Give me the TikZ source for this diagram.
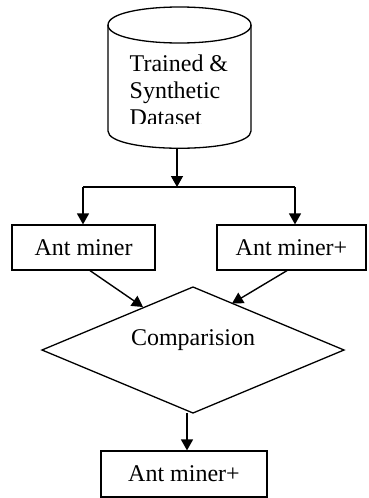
\documentclass[tikz,border=0pt]{standalone}
\usepackage{fontspec}
\setmainfont{Liberation Serif}
\usetikzlibrary{arrows.meta,calc}
\begin{document}
\begin{tikzpicture}[x=1pt,y=-1pt,
  line width=1.4pt,
  txt/.style={font=\fontsize{24}{27}\selectfont, inner sep=0pt},
  box/.style={draw, line width=1.2pt, inner sep=0pt, font=\fontsize{24}{27}\selectfont},
  arr/.style={-{Triangle[length=11pt,width=12pt]}},
  shp/.style={line width=1.3pt}]
\useasboundingbox (0,0) rectangle (368,498);
% cylinder
\coordinate (cl) at (108,25);
\coordinate (cr) at (251,25);
\coordinate (cbl) at (108,131);
\coordinate (cbr) at (251,131);
\draw[shp] (cl) -- (cbl) .. controls (108,154) and (251,154) .. (cbr) -- (cr) .. controls (251,1) and (108,1) .. (cl);
\draw[shp] (cl) .. controls (108,49) and (251,49) .. (cr);
\begin{scope}
\clip (110,45) rectangle (249,123.5);
\node[txt,anchor=base west] (t1) at (129,71) {Trained \&};
\node[txt,anchor=base west] (t2) at (129,98) {Synthetic};
\node[txt,anchor=base west] (t3) at (129,125) {Dataset};
\end{scope}
\coordinate (dbot) at (177,148);
\coordinate (split) at (177,187);
\coordinate (sl) at (83,187);
\coordinate (sr) at (295,187);
% boxes
\node[box,minimum width=143,minimum height=45] (ant1) at (83.5,247.5) {Ant miner};
\node[box,minimum width=149,minimum height=45] (ant2) at (291.5,247.5) {Ant miner+};
\node[box,minimum width=166,minimum height=46] (res) at (184,474) {Ant miner+};
% diamond
\coordinate (dtop) at (193,287);
\coordinate (dleft) at (42,350);
\coordinate (dbottom) at (193,413);
\coordinate (dright) at (344,350);
\draw[shp] (dtop) -- (dright) -- (dbottom) -- (dleft) -- cycle;
\node[txt] (cmp) at (193,340) {Comparision};
\coordinate (el) at (143,307);
\coordinate (er) at (232,303.5);
% connectors
\draw[arr] (dbot) -- (split);
\draw (sl) -- (sr);
\draw[arr] (sl) -- (sl |- ant1.north);
\draw[arr] (sr) -- (sr |- ant2.north);
\draw[arr] ([xshift=6.5pt]ant1.south) -- (el);
\draw[arr] ([xshift=-4.5pt]ant2.south) -- (er);
\draw[arr] ($(dbottom)+(-6,0)$) -- ($(res.north)+(3,0)$);
\end{tikzpicture}
\end{document}
